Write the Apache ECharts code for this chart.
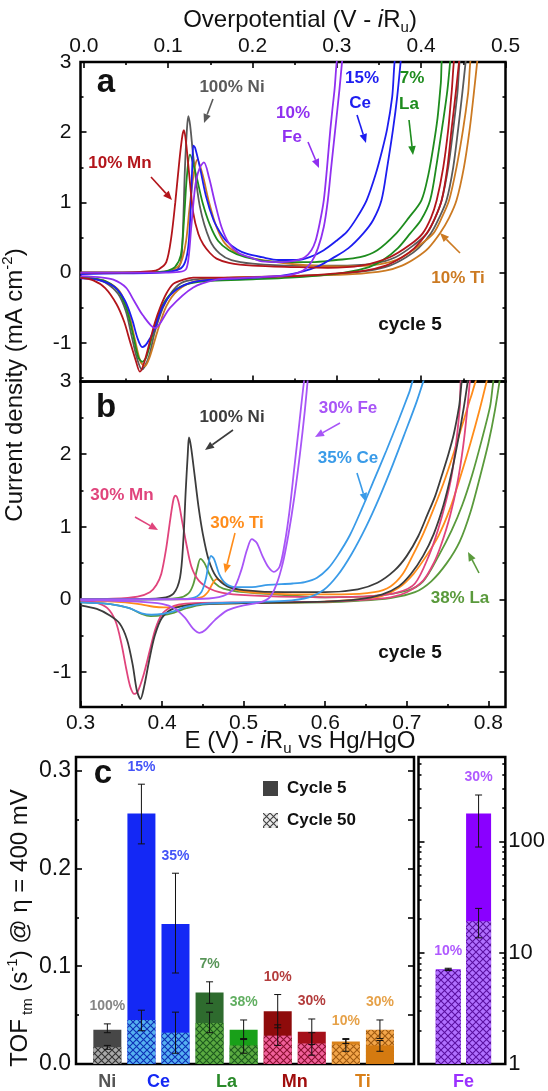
<!DOCTYPE html>
<html><head><meta charset="utf-8">
<script src="https://cdn.jsdelivr.net/npm/echarts@6/dist/echarts.min.js"></script>
<style>html,body{margin:0;padding:0;background:#fff}#c{width:548px;height:1091px}</style>
</head><body><div id="c"></div>
<script>
// ---------------- DATA: panel a (overpotential, V ; current density mA cm-2) ----------------
const aNiF=[[-0.004,0.0],[0.045,0.0],[0.09,0.01],[0.106,0.03],[0.1114,0.05],[0.1159,0.22],[0.1199,1.5],[0.122,2.0],[0.1238,2.23],[0.126,2.1],[0.1297,1.66],[0.1376,0.94],[0.1495,0.46],[0.1612,0.27],[0.175,0.18],[0.2,0.13],[0.25,0.1],[0.3,0.1],[0.3431,0.13],[0.3695,0.22],[0.392,0.4],[0.4067,0.56],[0.4165,0.78],[0.4243,1.03],[0.4321,1.5],[0.438,2.04],[0.4429,2.55],[0.4477,3.1]];
const aNiR=[[0.4536,3.1],[0.4487,2.55],[0.4438,2.04],[0.438,1.5],[0.4301,1.03],[0.4213,0.78],[0.4116,0.56],[0.3969,0.35],[0.3822,0.22],[0.3627,0.1],[0.3382,0.03],[0.2893,-0.03],[0.2111,-0.06],[0.1534,-0.08],[0.13,-0.1],[0.115,-0.15],[0.104,-0.28],[0.0938,-0.5],[0.084,-0.85],[0.077,-1.2],[0.0688,-1.38],[0.063,-1.22],[0.0566,-0.9],[0.0498,-0.55],[0.0405,-0.3],[0.0253,-0.14],[0.0112,-0.08],[-0.004,-0.06]];
const aMnF=[[-0.004,0.0],[0.045,0.0],[0.08,0.02],[0.0889,0.05],[0.0977,0.15],[0.1036,0.5],[0.1084,1.0],[0.1133,1.6],[0.1168,1.95],[0.1187,2.03],[0.1212,1.85],[0.1241,1.5],[0.1297,0.85],[0.1358,0.55],[0.1417,0.4],[0.1495,0.28],[0.1573,0.2],[0.172,0.14],[0.2,0.1],[0.25,0.08],[0.2893,0.07],[0.3285,0.1],[0.3627,0.22],[0.3871,0.4],[0.4018,0.56],[0.4116,0.78],[0.4184,1.03],[0.4262,1.5],[0.4321,2.04],[0.436,2.55],[0.4409,3.1]];
const aMnR=[[0.4458,3.1],[0.4409,2.55],[0.436,2.04],[0.4311,1.5],[0.4243,1.03],[0.4165,0.78],[0.4067,0.56],[0.392,0.35],[0.3773,0.22],[0.3578,0.1],[0.3333,0.03],[0.2893,-0.02],[0.2502,-0.05],[0.172,-0.07],[0.1297,-0.07],[0.118,-0.1],[0.106,-0.16],[0.0977,-0.3],[0.0903,-0.5],[0.084,-0.72],[0.0783,-0.98],[0.071,-1.3],[0.0664,-1.41],[0.0615,-1.25],[0.0547,-0.98],[0.0478,-0.7],[0.0388,-0.45],[0.0253,-0.22],[0.0112,-0.11],[-0.004,-0.07]];
const aCeF=[[-0.004,-0.02],[0.045,-0.01],[0.09,0.0],[0.1133,0.05],[0.12,0.15],[0.1241,0.4],[0.127,1.0],[0.1285,1.5],[0.1298,1.81],[0.1319,1.78],[0.1376,1.5],[0.1446,1.1],[0.1534,0.76],[0.1612,0.58],[0.1691,0.45],[0.1818,0.33],[0.1929,0.27],[0.2111,0.22],[0.2307,0.18],[0.2522,0.18],[0.2678,0.22],[0.2845,0.32],[0.2991,0.45],[0.3118,0.58],[0.3236,0.78],[0.3353,1.03],[0.346,1.4],[0.3539,1.75],[0.3597,2.05],[0.3656,2.5],[0.3705,3.1]];
const aCeR=[[0.3764,3.1],[0.3715,2.5],[0.3666,2.04],[0.3597,1.5],[0.3529,1.03],[0.3431,0.75],[0.3314,0.56],[0.3138,0.35],[0.2942,0.2],[0.2796,0.1],[0.26,0.02],[0.2307,-0.05],[0.1916,-0.08],[0.15,-0.1],[0.125,-0.15],[0.1056,-0.28],[0.0928,-0.5],[0.083,-0.82],[0.0752,-1.0],[0.0693,-1.06],[0.0635,-0.93],[0.0576,-0.68],[0.0488,-0.4],[0.0361,-0.2],[0.0156,-0.1],[-0.004,-0.08]];
const aLaF=[[-0.004,0],[0.045,0],[0.09,0.01],[0.1,0.03],[0.108,0.08],[0.115,0.25],[0.119,0.8],[0.122,1.35],[0.1258,1.68],[0.1329,1.4],[0.1407,1.0],[0.1495,0.68],[0.1593,0.45],[0.172,0.32],[0.1916,0.22],[0.2307,0.15],[0.2698,0.15],[0.2991,0.18],[0.3275,0.22],[0.348,0.32],[0.3705,0.56],[0.3852,0.78],[0.4003,1.03],[0.4086,1.4],[0.4145,1.8],[0.4194,2.2],[0.4233,2.7],[0.4262,3.1]];
const aLaR=[[0.435,3.1],[0.4311,2.6],[0.4253,2.1],[0.4184,1.55],[0.4106,1.03],[0.3998,0.75],[0.3871,0.56],[0.3724,0.35],[0.3548,0.18],[0.3382,0.08],[0.3089,0.0],[0.26,-0.06],[0.1916,-0.1],[0.1446,-0.12],[0.1182,-0.18],[0.1016,-0.32],[0.0899,-0.55],[0.0811,-0.9],[0.0742,-1.2],[0.0693,-1.27],[0.0644,-1.2],[0.0586,-0.9],[0.0508,-0.52],[0.04,-0.25],[0.0253,-0.12],[0.0077,-0.08],[-0.004,-0.07]];
const aFeF=[[-0.004,0.0],[0.045,0.0],[0.0938,0.0],[0.1133,0.01],[0.1212,0.05],[0.1245,0.25],[0.127,0.6],[0.13,1.0],[0.1329,1.3],[0.1376,1.5],[0.1424,1.57],[0.1485,1.35],[0.1554,1.0],[0.1632,0.65],[0.172,0.42],[0.1837,0.28],[0.2013,0.2],[0.2111,0.16],[0.2356,0.15],[0.2502,0.17],[0.262,0.22],[0.2698,0.32],[0.2747,0.45],[0.2796,0.7],[0.2845,1.03],[0.2884,1.5],[0.2923,2.04],[0.2972,2.6],[0.302,3.1]];
const aFeR=[[0.3069,3.1],[0.303,2.6],[0.2981,2.04],[0.2933,1.5],[0.2893,1.03],[0.2845,0.65],[0.2776,0.35],[0.2698,0.15],[0.26,0.03],[0.2453,-0.03],[0.2111,-0.06],[0.1785,-0.08],[0.1573,-0.1],[0.1297,-0.21],[0.1021,-0.5],[0.0843,-0.79],[0.0695,-0.6],[0.0595,-0.4],[0.0497,-0.21],[0.035,-0.1],[0.022,-0.07],[-0.004,-0.05]];
const aTiF=[[-0.004,0],[0.045,0],[0.09,0.01],[0.1056,0.04],[0.1153,0.15],[0.1212,0.45],[0.1251,0.9],[0.129,1.3],[0.1319,1.52],[0.1345,1.61],[0.1407,1.4],[0.1485,1.0],[0.1573,0.65],[0.1671,0.42],[0.1818,0.28],[0.2013,0.2],[0.2502,0.12],[0.2991,0.09],[0.3382,0.1],[0.3627,0.15],[0.3773,0.22],[0.3969,0.38],[0.4145,0.56],[0.4243,0.78],[0.4331,1.03],[0.4419,1.5],[0.4497,2.04],[0.4556,2.55],[0.4605,3.1]];
const aTiR=[[0.4673,3.1],[0.4624,2.55],[0.4575,2.04],[0.4507,1.5],[0.4419,1.03],[0.4331,0.78],[0.4223,0.56],[0.4086,0.35],[0.3949,0.22],[0.3773,0.1],[0.3578,0.03],[0.3187,-0.02],[0.2404,-0.05],[0.172,-0.07],[0.1329,-0.12],[0.1114,-0.25],[0.0977,-0.48],[0.0869,-0.85],[0.0781,-1.2],[0.0723,-1.33],[0.0669,-1.26],[0.0605,-0.95],[0.0527,-0.55],[0.0419,-0.26],[0.0253,-0.12],[0.0077,-0.08],[-0.004,-0.07]];

// ---------------- DATA: panel b (E vs Hg/HgO, V) ----------------
const bNiF=[[0.3,0.0],[0.36,0.0],[0.4,0.02],[0.414,0.08],[0.422,0.3],[0.426,0.8],[0.429,1.5],[0.4315,2.0],[0.433,2.23],[0.4355,2.1],[0.44,1.7],[0.445,1.25],[0.45,0.9],[0.457,0.55],[0.466,0.32],[0.48,0.18],[0.5,0.13],[0.55,0.1],[0.6,0.1],[0.64,0.14],[0.664,0.23],[0.685,0.4],[0.7,0.6],[0.714,0.87],[0.725,1.16],[0.735,1.43],[0.743,1.71],[0.751,2.0],[0.7575,2.27],[0.764,2.65],[0.77,3.1]];
const bNiR=[[0.776,3.1],[0.77,2.65],[0.763,2.2],[0.755,1.75],[0.745,1.3],[0.733,0.9],[0.72,0.6],[0.705,0.35],[0.69,0.18],[0.67,0.07],[0.64,0.0],[0.6,-0.03],[0.5,-0.05],[0.44,-0.07],[0.415,-0.12],[0.4,-0.25],[0.391,-0.5],[0.384,-0.85],[0.378,-1.2],[0.3735,-1.37],[0.369,-1.25],[0.364,-0.9],[0.357,-0.55],[0.348,-0.33],[0.336,-0.22],[0.32,-0.13],[0.3,-0.08]];
const bMnF=[[0.3,0.0],[0.34,0.01],[0.37,0.04],[0.385,0.1],[0.393,0.2],[0.399,0.35],[0.405,0.7],[0.41,1.1],[0.414,1.38],[0.4165,1.43],[0.42,1.35],[0.425,1.05],[0.43,0.75],[0.436,0.45],[0.445,0.26],[0.46,0.14],[0.48,0.08],[0.52,0.05],[0.6,0.03],[0.66,0.05],[0.69,0.1],[0.71,0.22],[0.727,0.6],[0.738,0.95],[0.748,1.35],[0.755,1.71],[0.761,2.2],[0.765,2.65],[0.768,3.1]];
const bMnR=[[0.778,3.1],[0.774,2.6],[0.769,2.1],[0.762,1.6],[0.753,1.15],[0.742,0.75],[0.733,0.5],[0.72,0.26],[0.7,0.1],[0.68,0.03],[0.64,-0.01],[0.6,-0.03],[0.5,-0.04],[0.44,-0.05],[0.42,-0.07],[0.41,-0.11],[0.4,-0.2],[0.392,-0.4],[0.385,-0.7],[0.377,-1.05],[0.37,-1.27],[0.366,-1.3],[0.361,-1.2],[0.356,-0.95],[0.35,-0.6],[0.343,-0.3],[0.333,-0.12],[0.318,-0.04],[0.3,-0.02]];
const bLaF=[[0.3,0.0],[0.38,0.0],[0.42,0.02],[0.432,0.08],[0.438,0.2],[0.443,0.42],[0.447,0.56],[0.452,0.5],[0.458,0.35],[0.465,0.22],[0.475,0.15],[0.5,0.1],[0.55,0.06],[0.6,0.03],[0.66,0.05],[0.7,0.12],[0.72,0.25],[0.739,0.6],[0.755,0.95],[0.768,1.3],[0.78,1.71],[0.792,2.2],[0.802,2.65],[0.809,3.1]];
const bLaR=[[0.815,3.1],[0.808,2.6],[0.8,2.15],[0.79,1.7],[0.778,1.2],[0.765,0.8],[0.749,0.5],[0.73,0.25],[0.71,0.1],[0.68,0.02],[0.64,-0.02],[0.6,-0.04],[0.5,-0.05],[0.45,-0.07],[0.43,-0.12],[0.415,-0.18],[0.4,-0.22],[0.386,-0.23],[0.375,-0.2],[0.36,-0.12],[0.34,-0.07],[0.32,-0.05],[0.3,-0.04]];
const bCeF=[[0.3,0.0],[0.4,0.0],[0.437,0.02],[0.448,0.1],[0.454,0.3],[0.457,0.5],[0.46,0.6],[0.464,0.55],[0.47,0.35],[0.478,0.22],[0.49,0.17],[0.51,0.17],[0.53,0.2],[0.56,0.22],[0.575,0.24],[0.59,0.3],[0.603,0.42],[0.615,0.6],[0.63,0.88],[0.645,1.25],[0.66,1.65],[0.675,2.05],[0.69,2.47],[0.703,2.85],[0.712,3.1]];
const bCeR=[[0.723,3.1],[0.712,2.72],[0.697,2.27],[0.683,1.86],[0.667,1.42],[0.65,1.0],[0.632,0.62],[0.615,0.33],[0.598,0.13],[0.58,0.03],[0.55,-0.02],[0.5,-0.04],[0.45,-0.06],[0.43,-0.1],[0.415,-0.16],[0.4,-0.2],[0.387,-0.21],[0.375,-0.19],[0.36,-0.12],[0.34,-0.07],[0.32,-0.05],[0.3,-0.04]];
const bTiF=[[0.3,0.0],[0.42,0.0],[0.448,0.03],[0.456,0.1],[0.462,0.22],[0.467,0.28],[0.473,0.25],[0.482,0.18],[0.495,0.12],[0.52,0.09],[0.56,0.07],[0.62,0.07],[0.66,0.1],[0.68,0.18],[0.695,0.35],[0.707,0.6],[0.72,0.9],[0.733,1.25],[0.745,1.6],[0.757,2.0],[0.768,2.4],[0.779,2.8],[0.79,3.1]];
const bTiR=[[0.8,3.1],[0.789,2.6],[0.778,2.15],[0.766,1.7],[0.753,1.25],[0.739,0.88],[0.724,0.6],[0.708,0.35],[0.69,0.16],[0.67,0.05],[0.64,0.0],[0.6,-0.03],[0.5,-0.05],[0.45,-0.06],[0.43,-0.08],[0.415,-0.1],[0.402,-0.11],[0.39,-0.1],[0.37,-0.06],[0.34,-0.03],[0.3,-0.02]];
const bFeF=[[0.3,0.0],[0.45,0.01],[0.475,0.05],[0.488,0.15],[0.497,0.4],[0.504,0.68],[0.51,0.83],[0.516,0.78],[0.523,0.6],[0.53,0.45],[0.537,0.38],[0.544,0.45],[0.55,0.75],[0.556,1.2],[0.562,1.8],[0.568,2.4],[0.574,3.0],[0.577,3.2]];
const bFeR=[[0.58,3.2],[0.575,2.6],[0.569,2.0],[0.562,1.4],[0.555,0.9],[0.548,0.5],[0.54,0.2],[0.532,0.03],[0.52,-0.04],[0.5,-0.08],[0.48,-0.15],[0.465,-0.28],[0.453,-0.42],[0.446,-0.46],[0.438,-0.4],[0.428,-0.25],[0.415,-0.12],[0.4,-0.06],[0.37,-0.03],[0.3,-0.01]];

// ---------------- DATA: panel c (TOF, s-1) ----------------
const cCats=['Ni 100%','Ce 15%','Ce 35%','La 7%','La 38%','Mn 10%','Mn 30%','Ti 10%','Ti 30%'];
const cPct=['100%','15%','35%','7%','38%','10%','30%','10%','30%'];
const tof5=[0.035,0.256,0.143,0.073,0.035,0.054,0.033,0.023,0.019];
const tof5Lo=[0.032,0.225,0.093,0.062,0.025,0.037,0.020,0.021,0.013];
const tof5Hi=[0.041,0.286,0.195,0.084,0.045,0.071,0.046,0.026,0.024];
const tof50=[0.017,0.045,0.032,0.042,0.019,0.029,0.021,0.020,0.035];
const tof50Lo=[0.015,0.034,0.011,0.032,0.011,0.019,0.009,0.013,0.026];
const tof50Hi=[0.019,0.055,0.053,0.053,0.026,0.040,0.032,0.025,0.045];
const grpNames=['Ni','Ce','La','Mn','Ti'];
const grpMembers=[[0],[1,2],[3,4],[5,6],[7,8]];
const feCats=['Fe 10%','Fe 30%'];
const fePct=['10%','30%'];
const fe5=[7.1,178], fe5Lo=[6.95,89], fe5Hi=[7.25,261];
const fe50=[7.0,19.2], fe50Lo=[6.9,13.6], fe50Hi=[7.1,25];

// ---------------- STYLES ----------------
const FONT='"Liberation Sans", Arial, sans-serif';
const colA={Ni:'#5a5a5a',Mn:'#b3151b',Ce:'#1d1df0',La:'#1e8c1e',Fe:'#9030f0',Ti:'#cc7a22'};
const colB={Ni:'#3c3c3c',Mn:'#e0447c',Ce:'#3a9be8',La:'#5a9a3c',Fe:'#a855f7',Ti:'#ff8c1a'};
const solidCol=['#474747','#1428f5','#1428f5','#2e6b2e','#19a019','#8e0b0b','#a5101a','#d9821a','#d47a10'];
const hatchCol=[['#a8a8a8','#333333'],['#55b0f0','#0e2fb5'],['#55b0f0','#0e2fb5'],['#5aaa40','#1e5a1e'],['#5aaa40','#1e5a1e'],['#f0609a','#8a1030'],['#f0609a','#8a1030'],['#f3a64a','#a05a10'],['#f3a64a','#a05a10']];
const pctCol=['#666666','#1428f5','#1428f5','#2e7a2e','#3a9a3a','#a00d0d','#a00d0d','#e08a1a','#e08a1a'];
const grpCol=['#555555','#1428f5','#2a8a2a','#a00d0d','#d9801a'];
const feSolid=['#8c1aff','#8a00ff'], feHatch=[['#b070ff','#5a10a0'],['#b070ff','#5a10a0']], feCol='#9b30ff';

function hatch(bg, fg){
  const c=document.createElement('canvas'); c.width=7; c.height=7;
  const g=c.getContext('2d'); g.fillStyle=bg; g.fillRect(0,0,7,7);
  g.strokeStyle=fg; g.lineWidth=1.1; g.beginPath();
  g.moveTo(0,0); g.lineTo(7,7); g.moveTo(7,0); g.lineTo(0,7); g.stroke();
  return {image:c, repeat:'repeat'};
}
function rng(a,b,s){const r=[];for(let v=a;v<=b+1e-9;v+=s)r.push(+v.toFixed(4));return r;}

function ax(o){
  return {type:o.type||'value',gridIndex:o.grid,position:o.pos,min:o.min,max:o.max,silent:true,
    axisLine:{show:false,onZero:false},splitLine:{show:false},
    axisTick:o.ticks?{show:true,inside:true,length:o.len||6,lineStyle:{color:'#000',width:1.6},customValues:o.ticks}:{show:false},
    axisLabel:o.labels?{show:true,customValues:o.labels,formatter:o.fmt,margin:o.margin||6,fontSize:o.fs||21,color:'#111',fontFamily:FONT,rich:o.rich}:{show:false}};
}
const f1=v=>(+v).toFixed(1);
const xA=[-0.004,0.5], xB=[0.3,0.821];
const xAxis=[
  ax({grid:0,pos:'top',min:xA[0],max:xA[1],ticks:rng(0,0.5,0.1),labels:rng(0,0.5,0.1),fmt:f1,margin:5}),
  ax({grid:0,pos:'top',min:xA[0],max:xA[1],ticks:rng(0.05,0.45,0.1),len:3}),
  ax({grid:0,pos:'bottom',min:xA[0],max:xA[1],ticks:rng(0.1,0.4,0.1)}),
  ax({grid:0,pos:'bottom',min:xA[0],max:xA[1],ticks:rng(0.05,0.45,0.1),len:3}),
  ax({grid:1,pos:'bottom',min:xB[0],max:xB[1],ticks:rng(0.3,0.8,0.1),labels:rng(0.3,0.8,0.1),fmt:f1,margin:6}),
  ax({grid:1,pos:'bottom',min:xB[0],max:xB[1],ticks:rng(0.35,0.75,0.1),len:3}),
  ax({grid:2,pos:'bottom',min:-0.92,max:9.0,labels:grpMembers.map(m=>(m[0]+m[m.length-1])/2),margin:9,
      fmt:v=>{const k=grpMembers.findIndex(m=>Math.abs((m[0]+m[m.length-1])/2-v)<1e-6);return '{g'+k+'|'+grpNames[k]+'}';},
      rich:Object.fromEntries(grpCol.map((c,k)=>['g'+k,{color:c,fontWeight:'bold',fontSize:18,fontFamily:FONT}]))}),
  ax({grid:3,pos:'bottom',min:-0.98,max:1.88,labels:[0.5],margin:9,fmt:()=>'{f|Fe}',rich:{f:{color:feCol,fontWeight:'bold',fontSize:18,fontFamily:FONT}}})
];
const yA=[-1.55,3], yB=[-1.48,3], yC=[0,0.3138];
const LOGMAX=573;
const logMinor=[2,3,4,5,6,7,8,9,20,30,40,50,60,70,80,90,200,300,400,500].map(v=>Math.log10(v));
const logAx=(pos,lab)=>({type:'log',logBase:10,gridIndex:3,position:pos,min:1,max:LOGMAX,silent:true,axisLine:{show:false,onZero:false},splitLine:{show:false},
    axisTick:{show:true,inside:true,length:6,lineStyle:{color:'#000',width:1.6}},
    axisLabel:lab?{show:true,showMaxLabel:false,margin:3,fontSize:22,color:'#111',fontFamily:FONT,formatter:v=>String(Math.round(v))}:{show:false}});
const yAxis=[
  ax({grid:0,pos:'left',min:yA[0],max:yA[1],ticks:[-1,0,1,2,3],labels:[-1,0,1,2,3],fmt:v=>String(v),margin:9}),
  ax({grid:0,pos:'left',min:yA[0],max:yA[1],ticks:[-1.5,-0.5,0.5,1.5,2.5],len:3}),
  ax({grid:0,pos:'right',min:yA[0],max:yA[1],ticks:[-1,0,1,2]}),
  ax({grid:0,pos:'right',min:yA[0],max:yA[1],ticks:[-1.5,-0.5,0.5,1.5,2.5],len:3}),
  ax({grid:1,pos:'left',min:yB[0],max:yB[1],ticks:[-1,0,1,2,3],labels:[-1,0,1,2,3],fmt:v=>String(v),margin:9}),
  ax({grid:1,pos:'left',min:yB[0],max:yB[1],ticks:[-0.5,0.5,1.5,2.5],len:3}),
  ax({grid:1,pos:'right',min:yB[0],max:yB[1],ticks:[-1,0,1,2]}),
  ax({grid:1,pos:'right',min:yB[0],max:yB[1],ticks:[-0.5,0.5,1.5,2.5],len:3}),
  ax({grid:2,pos:'left',min:yC[0],max:yC[1],ticks:[0.1,0.2,0.3],labels:[0,0.1,0.2,0.3],fmt:f1,margin:5,fs:23}),
  ax({grid:2,pos:'left',min:yC[0],max:yC[1],ticks:[0.05,0.15,0.25],len:3}),
  ax({grid:2,pos:'right',min:yC[0],max:yC[1],ticks:rng(0.05,0.3,0.05)}),
  logAx('right',true),
  ax({grid:3,pos:'right',min:0,max:Math.log10(LOGMAX),ticks:logMinor,len:3}),
  logAx('left',false),
  ax({grid:3,pos:'left',min:0,max:Math.log10(LOGMAX),ticks:logMinor,len:3})
];

function cv(f,r,color,xi,yi){
  return {type:'line',xAxisIndex:xi,yAxisIndex:yi,data:f.concat(r),showSymbol:false,symbol:'none',smooth:0.3,
    lineStyle:{color,width:1.8},itemStyle:{color},silent:true,z:3};
}
const series=[
  cv(aNiF,aNiR,colA.Ni,0,0), cv(aTiF,aTiR,colA.Ti,0,0), cv(aLaF,aLaR,colA.La,0,0),
  cv(aCeF,aCeR,colA.Ce,0,0), cv(aMnF,aMnR,colA.Mn,0,0), cv(aFeF,aFeR,colA.Fe,0,0),
  cv(bLaF,bLaR,colB.La,4,4), cv(bTiF,bTiR,colB.Ti,4,4), cv(bMnF,bMnR,colB.Mn,4,4),
  cv(bNiF,bNiR,colB.Ni,4,4), cv(bCeF,bCeR,colB.Ce,4,4), cv(bFeF,bFeR,colB.Fe,4,4)
];

// bars: the larger of the two values is drawn behind, the smaller in front
function barPair(v5,v50,solidC,hatchC,xi,yi,bw){
  const back=[],front=[];
  v5.forEach((a,i)=>{
    const s={value:[i,a],itemStyle:{color:solidC[i]}};
    const h={value:[i,v50[i]],itemStyle:{color:hatch(hatchC[i][0],hatchC[i][1])}};
    if(a>=v50[i]){back.push(s);front.push(h);}else{back.push(h);front.push(s);}
  });
  return [
    {type:'bar',xAxisIndex:xi,yAxisIndex:yi,data:back,barWidth:bw,barGap:'-100%',silent:true,z:2},
    {type:'bar',xAxisIndex:xi,yAxisIndex:yi,data:front,barWidth:bw,barGap:'-100%',silent:true,z:3}
  ];
}
function errRender(p,api){
  const x=api.value(0),lo=api.value(1),hi=api.value(2);
  const a=api.coord([x,lo]),b=api.coord([x,hi]),w=3.5,st={stroke:'#111',lineWidth:1};
  return {type:'group',children:[
    {type:'line',shape:{x1:a[0],y1:a[1],x2:b[0],y2:b[1]},style:st},
    {type:'line',shape:{x1:a[0]-w,y1:a[1],x2:a[0]+w,y2:a[1]},style:st},
    {type:'line',shape:{x1:b[0]-w,y1:b[1],x2:b[0]+w,y2:b[1]},style:st}]};
}
function errSeries(lo,hi,xi,yi){
  return {type:'custom',xAxisIndex:xi,yAxisIndex:yi,renderItem:errRender,silent:true,z:6,data:lo.map((l,i)=>[i,l,hi[i]])};
}
function pctSeries(txt,cols,hi1,hi2,xi,yi){
  return {type:'scatter',xAxisIndex:xi,yAxisIndex:yi,symbolSize:1,itemStyle:{color:'rgba(0,0,0,0)'},silent:true,z:7,
    data:txt.map((t,i)=>({value:[i,Math.max(hi1[i],hi2[i])],name:t,label:{color:Array.isArray(cols)?cols[i]:cols}})),
    label:{show:true,position:'top',distance:10,formatter:p=>p.name,fontWeight:'bold',fontSize:14,fontFamily:FONT}};
}
series.push(...barPair(tof5,tof50,solidCol,hatchCol,6,8,28));
series.push(errSeries(tof5Lo,tof5Hi,6,8),errSeries(tof50Lo,tof50Hi,6,8));
series.push(pctSeries(cPct,pctCol,tof5Hi,tof50Hi,6,8));
series.push(...barPair(fe5,fe50,feSolid,feHatch,7,11,25));
series.push(errSeries(fe5Lo,fe5Hi,7,11),errSeries(fe50Lo,fe50Hi,7,11));
series.push(pctSeries(fePct,feCol,fe5Hi,fe50Hi,7,11));
series.push({type:'scatter',name:'Cycle 5',xAxisIndex:6,yAxisIndex:8,data:[],itemStyle:{color:'#111'}});
series.push({type:'scatter',name:'Cycle 50',xAxisIndex:6,yAxisIndex:8,data:[],itemStyle:{color:hatch('#e6e6e6','#111')}});

// annotations
function T(text,x,y,color,size,weight){return {type:'text',x,y,z:100,style:{text,fill:color,font:(weight||'bold')+' '+(size||17)+'px '+FONT,align:'center',verticalAlign:'middle'}};}
function arrow(x1,y1,x2,y2,color){
  const a=Math.atan2(y2-y1,x2-x1),L=9,W=3.8,bx=x2-L*Math.cos(a),by=y2-L*Math.sin(a),px=-Math.sin(a)*W,py=Math.cos(a)*W;
  return [{type:'line',z:100,shape:{x1,y1,x2:bx,y2:by},style:{stroke:color,lineWidth:1.6}},
          {type:'polygon',z:100,shape:{points:[[x2,y2],[bx+px,by+py],[bx-px,by-py]]},style:{fill:color}}];
}
const richT={n:{fontSize:24,lineHeight:30,fontFamily:FONT,fill:'#111'},i:{fontSize:24,fontStyle:'italic',lineHeight:30,fontFamily:FONT,fill:'#111'},
  s:{fontSize:15,lineHeight:14,verticalAlign:'bottom',fontFamily:FONT,fill:'#111'},p:{fontSize:15,lineHeight:14,verticalAlign:'top',fontFamily:FONT,fill:'#111'}};
function RT(text,x,y,rot){return {type:'text',x,y,rotation:rot||0,z:100,style:{text,rich:richT,align:'center',verticalAlign:'middle'}};}
const graphic=[
  RT('{n|Overpotential (V - }{i|i}{n|R}{s|u}{n|)}',300,20),
  RT('{n|E (V) - }{i|i}{n|R}{s|u}{n| vs Hg/HgO}',300,741),
  RT('{n|Current density (mA cm}{p|-2}{n|)}',15,385,Math.PI/2),
  RT('{n|TOF}{s| tm}{n| (s}{p|-1}{n|) @ η = 400 mV}',20,928,Math.PI/2),
  T('a',106,83,'#111',33), T('b',106,408,'#111',33), T('c',103,774,'#111',33),
  T('100% Ni',232,87,colA.Ni), T('10% Mn',120,163,colA.Mn), T('10%',293,113,colA.Fe), T('Fe',292,137,colA.Fe),
  T('15%',362,78,colA.Ce), T('Ce',360,103,colA.Ce), T('7%',412,78,colA.La), T('La',409,104,colA.La),
  T('10% Ti',458,278,colA.Ti), T('cycle 5',410,325,'#111',19),
  ...arrow(213,99,204,123,colA.Ni), ...arrow(151,177,172,200,colA.Mn), ...arrow(308,142,319,168,colA.Fe),
  ...arrow(357,115,366,143,colA.Ce), ...arrow(409,120,413,155,colA.La), ...arrow(460,253,440,233,colA.Ti),
  T('100% Ni',232,417,colB.Ni), T('30% Mn',122,495,colB.Mn), T('30% Ti',237,523,colB.Ti), T('30% Fe',348,408,colB.Fe),
  T('35% Ce',348,458,colB.Ce), T('38% La',460,598,colB.La), T('cycle 5',410,653,'#111',19),
  ...arrow(233,430,205,450,colB.Ni), ...arrow(135,517,158,530,colB.Mn), ...arrow(235,533,225,573,colB.Ti),
  ...arrow(340,423,315,437,colB.Fe), ...arrow(357,473,366,502,colB.Ce), ...arrow(479,573,468,552,colB.La)
];
const gridStyle={show:true,borderColor:'#000',borderWidth:2.5,backgroundColor:'rgba(0,0,0,0)'};
const option={
  animation:false, textStyle:{fontFamily:FONT},
  grid:[Object.assign({left:80.5,top:62,width:425,height:319.5},gridStyle),
        Object.assign({left:80.5,top:381.5,width:425,height:325.5},gridStyle),
        Object.assign({left:76,top:757,width:338,height:307},gridStyle),
        Object.assign({left:418.5,top:757,width:87.5,height:307},gridStyle)],
  xAxis, yAxis, series, graphic,
  legend:{show:true,orient:'vertical',left:258,top:775,itemWidth:15,itemHeight:15,itemGap:15,icon:'rect',selectedMode:false,
    data:['Cycle 5','Cycle 50'],textStyle:{fontSize:17,fontWeight:'bold',color:'#111',fontFamily:FONT,padding:[0,0,0,4]}}
};
const chart=echarts.init(document.getElementById('c'),null,{renderer:'canvas',width:548,height:1091});
chart.setOption(option);
</script></body></html>
